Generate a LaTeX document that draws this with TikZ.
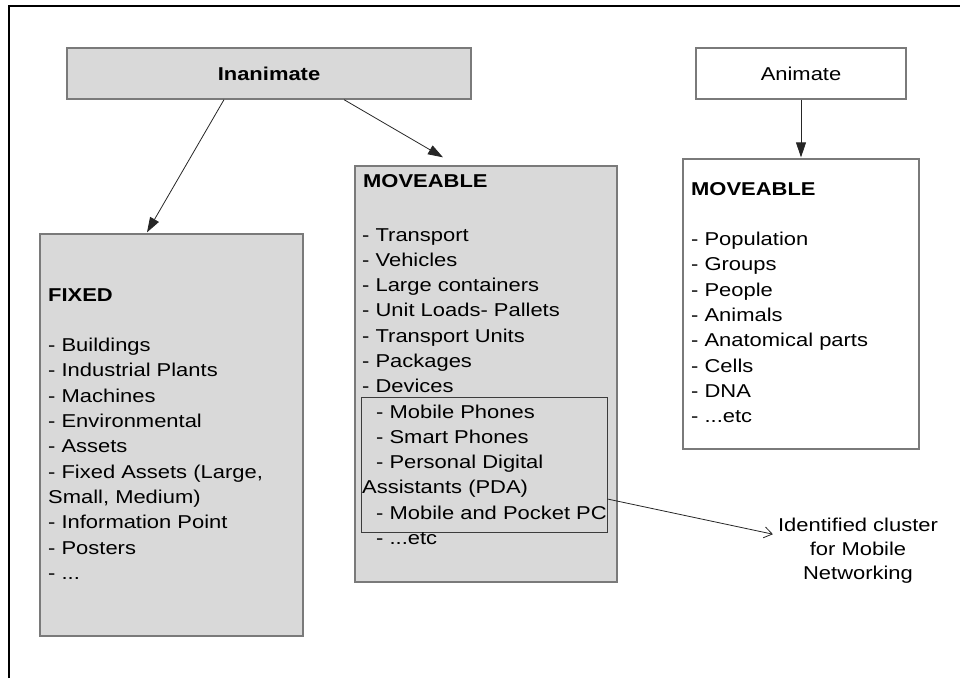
\documentclass[tikz,border=0pt]{standalone}
\usepackage{fontspec}
\setmainfont[FakeStretch=1.18]{Liberation Sans}
\usetikzlibrary{arrows.meta}
\definecolor{boxfill}{HTML}{D9D9D9}
\definecolor{boxline}{HTML}{7A7A7A}
\definecolor{clusterline}{HTML}{3C3C3C}

\begin{document}
\begin{tikzpicture}[x=1pt,y=-1pt,
  txt/.style={font=\fontsize{18.6}{25.3}\selectfont},
  box/.style={draw=boxline, line width=1.3pt, inner sep=0pt, txt},
  shaded/.style={box, fill=boxfill},
  plain/.style={box, fill=white},
  cluster/.style={draw=clusterline, line width=0.9pt, inner sep=0pt},
  list/.style={txt, anchor=base west, inner sep=0pt},
  link/.style={draw=black!85, line width=0.8pt, -{Triangle[length=15pt,width=10pt]}},
  pointer/.style={draw=black!85, line width=0.8pt, -{Straight Barb[length=8pt,width=11pt]}}
]
\useasboundingbox (0,0) rectangle (960,678);

% page frame (left and top edges)
\draw[line width=1.5pt] (9,678) -- (9,6) -- (960,6);

% category headers
\node[shaded, minimum width=404pt, minimum height=51pt] (inan) at (269,73.5) {\textbf{Inanimate}};
\node[plain, minimum width=210pt, minimum height=51pt] (anim) at (801,73.5) {Animate};

% class boxes
\node[shaded, minimum width=263pt, minimum height=402pt] (fixed) at (171.5,435) {};
\node[shaded, minimum width=262pt, minimum height=416pt] (mov) at (486,374) {};
\node[cluster, minimum width=246pt, minimum height=135pt] (clus) at (484,464.5) {};
\node[plain, minimum width=236pt, minimum height=290pt] (live) at (801,304) {};

% box contents
\node[list] (fixedtext) at (48,301) {\begin{tabular}[t]{@{}l@{}}\textbf{FIXED}\\ \\
- Buildings\\- Industrial Plants\\- Machines\\- Environmental\\- Assets\\
- Fixed Assets (Large,\\Small, Medium)\\- Information Point\\- Posters\\- ...\end{tabular}};

\node[list] (movhead) at (363,187) {\textbf{MOVEABLE}};
\node[list] (movtext) at (362,241) {\begin{tabular}[t]{@{}l@{}}- Transport\\- Vehicles\\
- Large containers\\- Unit Loads- Pallets\\- Transport Units\\- Packages\\- Devices\end{tabular}};
\node[list] (clustext) at (362,418) {\begin{tabular}[t]{@{}l@{}}\hspace*{14pt}- Mobile Phones\\
\hspace*{14pt}- Smart Phones\\\hspace*{14pt}- Personal Digital\\Assistants (PDA)\\
\hspace*{14pt}- Mobile and Pocket PC\\\hspace*{14pt}- ...etc\end{tabular}};

\node[list] (livetext) at (691,195) {\begin{tabular}[t]{@{}l@{}}\textbf{MOVEABLE}\\ \\
- Population\\- Groups\\- People\\- Animals\\- Anatomical parts\\- Cells\\- DNA\\- ...etc\end{tabular}};

\node[font=\fontsize{18.6}{24}\selectfont, anchor=base, inner sep=0pt] (note) at (858,531)
  {\begin{tabular}[t]{@{}c@{}}Identified cluster\\for Mobile\\Networking\end{tabular}};

% connectors
\draw[link] ([xshift=-45pt]inan.south) -- ([xshift=-24.5pt,yshift=1pt]fixed.north);
\draw[link] ([xshift=75pt]inan.south) -- ([xshift=-43pt,yshift=8pt]mov.north);
\draw[link] (anim.south) -- ([yshift=1pt]live.north);
\draw[pointer] ([yshift=-34.5pt]clus.east) -- ([xshift=-5pt,yshift=16pt]note.west);
\end{tikzpicture}
\end{document}
